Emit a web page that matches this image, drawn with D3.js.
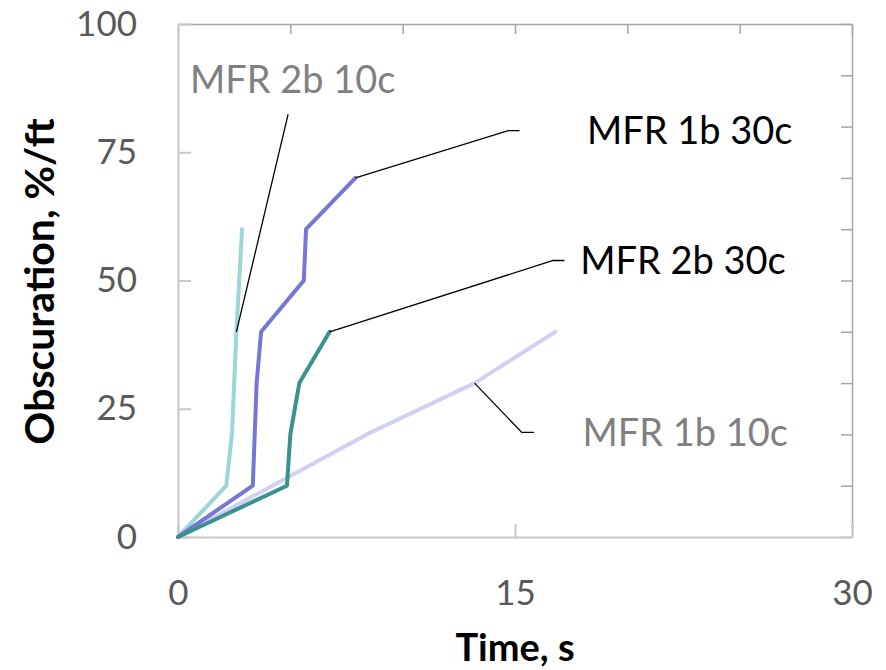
<!DOCTYPE html>
<html lang="en">
<head>
    <meta charset="UTF-8">
    <title>Obscuration vs time</title>
    <style>
        body { margin: 0; background: #fff; }
        svg text { font-family: "Lato", sans-serif; }
    </style>
</head>
<body>
    <div id="chart"></div>
    <script src="https://d3js.org/d3.v7.min.js"></script>
    <script>
        // series: [time s, obscuration %/ft]
        const mfr1b10c = [[0, 0], [8.4, 20], [13.2, 30], [16.8, 40]];
        const mfr2b10c = [[0, 0], [2.15, 10], [2.4, 20], [2.6, 40], [2.85, 60]];
        const mfr1b30c = [[0, 0], [3.33, 10], [3.5, 30], [3.7, 40], [5.6, 50], [5.7, 60], [7.9, 70]];
        const mfr2b30c = [[0, 0], [4.85, 10], [5.0, 20], [5.4, 30], [6.75, 40]];

        const seriesNames = ["MFR 1b 10c", "MFR 2b 10c", "MFR 1b 30c", "MFR 2b 30c"];
        const seriesData = [mfr1b10c, mfr2b10c, mfr1b30c, mfr2b30c];
        const seriesColors = ["#d0d0f2", "#9dd6d6", "#7676d4", "#3b9090"];

        const xTicks = [0, 15, 30];
        const yTicks = [0, 25, 50, 75, 100];

        // callouts: point on the line, elbow, end of leader, label start (all data units)
        const callouts = [
            {name: "MFR 2b 10c", color: "#808080", at: [2.6, 40], elbow: null, end: [4.9, 82.4], label: [0.53, 89.3]},
            {name: "MFR 1b 30c", color: "#000000", at: [7.9, 70], elbow: [14.7, 79.2], end: [15.2, 79.2], label: [18.2, 79.2]},
            {name: "MFR 2b 30c", color: "#000000", at: [6.75, 40], elbow: [16.7, 53.9], end: [17.2, 53.9], label: [17.9, 53.9]},
            {name: "MFR 1b 10c", color: "#808080", at: [13.2, 30], elbow: [15.3, 20.4], end: [15.85, 20.4], label: [18.0, 20.4]}
        ];

        const width = 886;
        const height = 670;
        const margin = {top: 24, right: 34, bottom: 133, left: 178};

        const svg = d3.select("#chart").append("svg")
            .attr("width", width)
            .attr("height", height);

        const x = d3.scaleLinear().domain([0, 30]).range([margin.left, width - margin.right]);
        const y = d3.scaleLinear().domain([0, 100]).range([height - margin.bottom, margin.top]);

        // secondary axes (top / right) with minor ticks only
        svg.append("g")
            .attr("transform", `translate(0,${margin.top})`)
            .call(d3.axisTop(x).tickValues(d3.range(0, 31, 5)).tickSizeInner(-10).tickSizeOuter(0).tickFormat(""))
            .call(g => g.selectAll("line, path").attr("stroke", "#a6a6a6").attr("stroke-width", 1.5));

        svg.append("g")
            .attr("transform", `translate(${width - margin.right},0)`)
            .call(d3.axisRight(y).tickValues(d3.range(0, 101, 10)).tickSizeInner(-11).tickSizeOuter(0).tickFormat(""))
            .call(g => g.selectAll("line, path").attr("stroke", "#a6a6a6").attr("stroke-width", 1.5));

        // primary axes
        svg.append("g")
            .attr("transform", `translate(${margin.left},0)`)
            .call(d3.axisLeft(y).tickValues(yTicks).tickSizeInner(-13).tickSizeOuter(0).tickPadding(41))
            .call(g => g.selectAll("line, path").attr("stroke", "#c8c8c8").attr("stroke-width", 2))
            .call(g => g.selectAll("text").attr("fill", "#595959").style("font-size", "35px"));

        svg.append("g")
            .attr("transform", `translate(0,${height - margin.bottom})`)
            .call(d3.axisBottom(x).tickValues(xTicks).tickSizeInner(-13).tickSizeOuter(0).tickPadding(43))
            .call(g => g.selectAll("line, path").attr("stroke", "#c8c8c8").attr("stroke-width", 2))
            .call(g => g.selectAll("text").attr("fill", "#595959").style("font-size", "35px"));

        // lines
        const line = d3.line().x(d => x(d[0])).y(d => y(d[1]));

        svg.append("g")
            .attr("fill", "none")
            .attr("stroke-width", 4)
            .attr("stroke-linejoin", "round")
            .attr("stroke-linecap", "round")
            .selectAll("path")
            .data(seriesData)
            .join("path")
            .attr("stroke", (d, i) => seriesColors[i])
            .attr("d", line);

        // callout leaders + labels
        const leader = d3.line().x(d => x(d[0])).y(d => y(d[1]));
        svg.append("g")
            .attr("fill", "none")
            .attr("stroke", "#000")
            .attr("stroke-width", 1.3)
            .selectAll("path")
            .data(callouts)
            .join("path")
            .attr("d", d => leader([d.at, d.elbow, d.end].filter(p => p)));

        svg.append("g")
            .selectAll("text")
            .data(callouts)
            .join("text")
            .attr("x", d => x(d.label[0]))
            .attr("y", d => y(d.label[1]))
            .attr("dy", "0.36em")
            .attr("fill", d => d.color)
            .style("font-size", "38px")
            .text(d => d.name);

        // axis titles
        svg.append("text")
            .attr("x", x(15))
            .attr("y", 661)
            .attr("text-anchor", "middle")
            .style("font-size", "38px")
            .style("font-weight", "bold")
            .text("Time, s");

        svg.append("text")
            .attr("transform", `translate(54,${(y(0) + y(100)) / 2 + 1}) rotate(-90)`)
            .attr("text-anchor", "middle")
            .style("font-size", "41px")
            .style("font-weight", "bold")
            .text("Obscuration, %/ft");
    </script>
</body>
</html>
